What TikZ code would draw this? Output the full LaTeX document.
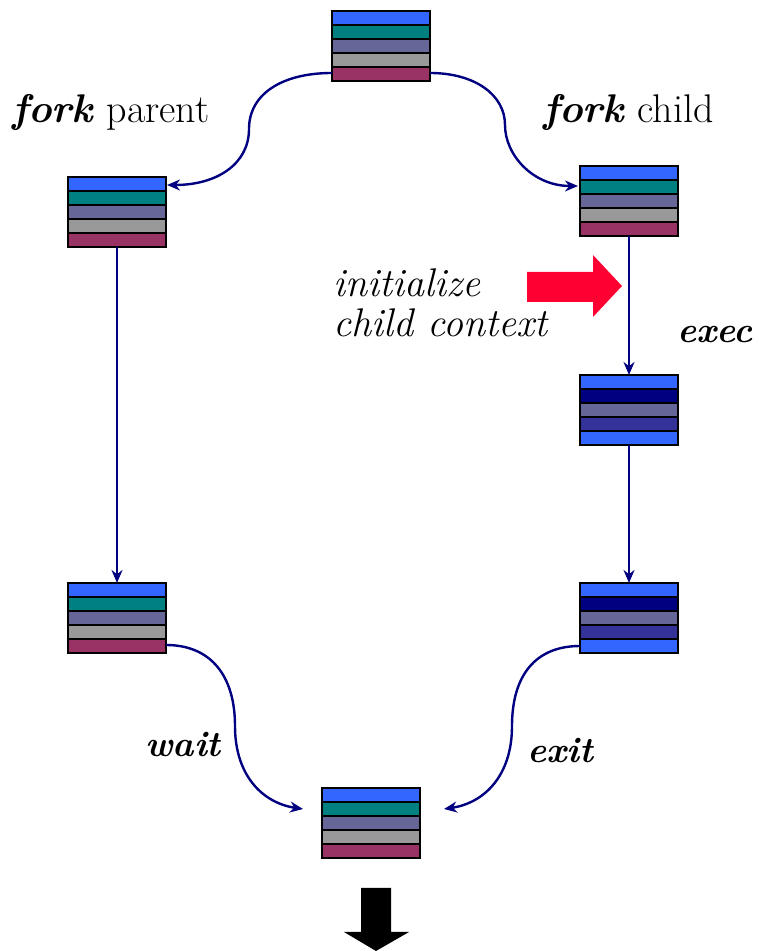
\documentclass[tikz,border=0pt]{standalone}
\usepackage{fontspec}
\usetikzlibrary{arrows.meta,calc}
\definecolor{cblue}{HTML}{3366FF}
\definecolor{cteal}{HTML}{008080}
\definecolor{cslate}{HTML}{666699}
\definecolor{cgray}{HTML}{999999}
\definecolor{cmaroon}{HTML}{993366}
\definecolor{cnavy}{HTML}{000080}
\definecolor{cindigo}{HTML}{333399}
\definecolor{cred}{HTML}{FF0033}
\tikzset{
  stackframe/.style={rectangle, minimum width=98pt, minimum height=70pt, inner sep=0pt, outer sep=0pt, draw=black, line width=2.5pt},
  barline/.style={draw=black, line width=2.5pt},
  conn/.style={draw=cnavy, line width=2.4pt, -{Stealth[length=13pt,width=11pt]}},
  txt/.style={anchor=base west, inner sep=0pt, font=\rmfamily\fontsize{40}{46}\selectfont},
  optxt/.style={anchor=base west, inner sep=0pt, font=\rmfamily\bfseries\itshape\fontsize{36}{42}\selectfont},
}
\newcommand{\procstack}[7]{%
  \node[stackframe] (#1) at #2 {};
  \begin{scope}[shift={(#1.north west)}]
    \foreach \c [count=\i from 0] in {#3,#4,#5,#6,#7}
      \draw[barline, fill=\c] (0,-14*\i) rectangle (98,-14*\i-14);
  \end{scope}
}
\begin{document}
\begin{tikzpicture}[x=1pt,y=1pt]
\useasboundingbox (0,0) rectangle (759,951);
% process stacks
\procstack{top}{(381,905)}{cblue}{cteal}{cslate}{cgray}{cmaroon}
\procstack{fp}{(117,739)}{cblue}{cteal}{cslate}{cgray}{cmaroon}
\procstack{fc}{(629,750)}{cblue}{cteal}{cslate}{cgray}{cmaroon}
\procstack{ex}{(629,541)}{cblue}{cnavy}{cslate}{cindigo}{cblue}
\procstack{lb}{(117,333)}{cblue}{cteal}{cslate}{cgray}{cmaroon}
\procstack{rb}{(629,333)}{cblue}{cnavy}{cslate}{cindigo}{cblue}
\procstack{bc}{(371,128)}{cblue}{cteal}{cslate}{cgray}{cmaroon}
% connector waypoints
\coordinate (m1) at (249,822);
\coordinate (m2) at (505,826);
\coordinate (m3) at (235,225);
\coordinate (m4) at (512,225);
% connectors
\draw[conn] ($(top.south west)+(0,8)$) .. controls +(-50,0) and +(0,35) .. (m1)
  .. controls +(0,-35) and +(50,0) .. ($(fp.north east)+(1,-8)$);
\draw[conn] ($(top.south east)+(0,8)$) .. controls +(45,0) and +(0,30) .. (m2)
  .. controls +(0,-30) and +(-45,0) .. ($(fc.north west)+(-2,-20)$);
\draw[conn] (fp.south) -- (lb.north);
\draw[conn] (fc.south) -- (ex.north);
\draw[conn] (ex.south) -- (rb.north);
\draw[conn] ($(lb.south east)+(0,8)$) .. controls +(45,0) and +(0,50) .. (m3)
  .. controls +(0,-50) and +(-40,6) .. ($(bc.north west)+(-19,-21)$);
\draw[conn] ($(rb.south west)+(0,7)$) .. controls +(-45,0) and +(0,50) .. (m4)
  .. controls +(0,-50) and +(40,6) .. ($(bc.north east)+(24,-21)$);
% labels
\node[txt] (l1) at (12,828) {\textbf{\textit{fork}} parent};
\node[txt] (l2) at (543,828) {\textbf{\textit{fork}} child};
\node[txt] (l3) at (333,654) {\textit{initialize}};
\node[txt] (l4) at (333,614) {\textit{child context}};
\node[optxt] (l5) at (677,608) {exec};
\node[optxt] (l6) at (145,194) {wait};
\node[optxt] (l7) at (527,188) {exit};
% red block arrow
\fill[cred] (527,679) -- (593,679) -- (593,696) -- (622,665) -- (593,634) -- (593,649) -- (527,649) -- cycle;
% black block arrow
\fill[black] (361,63) -- (391,63) -- (391,19) -- (409,19) -- (376,0) -- (344,19) -- (361,19) -- cycle;
\end{tikzpicture}
\end{document}
